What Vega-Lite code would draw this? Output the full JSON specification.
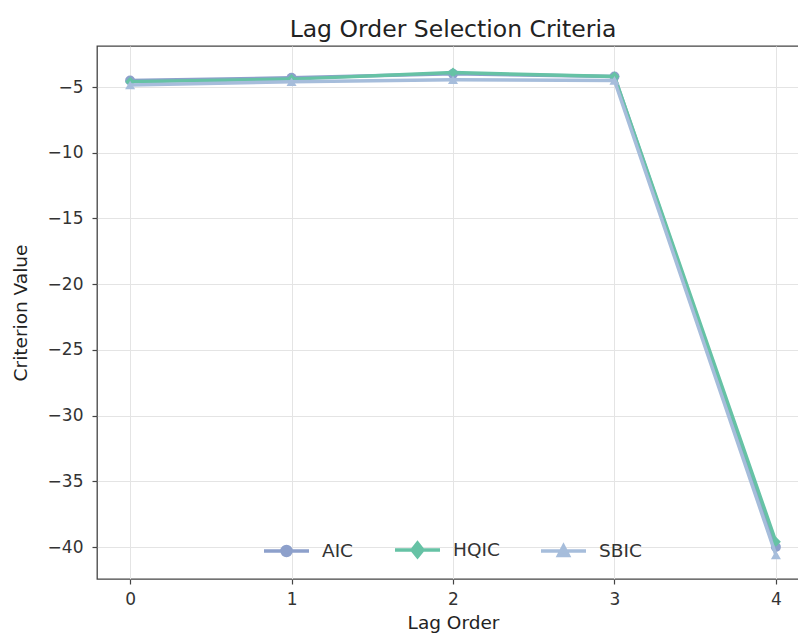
{
  "$schema": "https://vega.github.io/schema/vega-lite/v6.json",
  "autosize": "none",
  "padding": {"left": 97, "top": 46, "right": 0, "bottom": 60},
  "width": 712,
  "height": 533,
  "background": "white",
  "title": {"text": "Lag Order Selection Criteria", "font": "DejaVu Sans", "fontSize": 23.5, "fontWeight": "normal", "color": "#222", "offset": 5, "anchor": "middle"},
  "config": {
    "view": {"stroke": "#444", "strokeWidth": 1.3},
    "axis": {
      "labelFont": "DejaVu Sans", "labelFontSize": 17, "labelColor": "#333",
      "titleFont": "DejaVu Sans", "titleFontSize": 18.5, "titleFontWeight": "normal", "titleColor": "#222",
      "domain": false, "tickColor": "#444", "tickSize": 5, "tickWidth": 1.2,
      "gridColor": "#e4e4e4", "gridWidth": 1
    }
  },
  "data": {"values": [
    {"lag": 0, "series": "AIC", "value": -4.5},
    {"lag": 1, "series": "AIC", "value": -4.3},
    {"lag": 2, "series": "AIC", "value": -4.0},
    {"lag": 3, "series": "AIC", "value": -4.2},
    {"lag": 4, "series": "AIC", "value": -40.0},
    {"lag": 0, "series": "HQIC", "value": -4.6},
    {"lag": 1, "series": "HQIC", "value": -4.4},
    {"lag": 2, "series": "HQIC", "value": -3.9},
    {"lag": 3, "series": "HQIC", "value": -4.2},
    {"lag": 4, "series": "HQIC", "value": -39.6},
    {"lag": 0, "series": "SBIC", "value": -4.85},
    {"lag": 1, "series": "SBIC", "value": -4.6},
    {"lag": 2, "series": "SBIC", "value": -4.45},
    {"lag": 3, "series": "SBIC", "value": -4.5},
    {"lag": 4, "series": "SBIC", "value": -40.6}
  ]},
  "encoding": {
    "x": {"field": "lag", "type": "quantitative", "title": "Lag Order",
      "scale": {"domain": [-0.205, 4.205], "nice": false, "zero": false},
      "axis": {"values": [0, 1, 2, 3, 4], "format": "d", "titlePadding": 6, "labelPadding": 7}},
    "y": {"field": "value", "type": "quantitative", "title": "Criterion Value",
      "scale": {"domain": [-42.43, -1.88], "nice": false, "zero": false},
      "axis": {"values": [-5, -10, -15, -20, -25, -30, -35, -40], "titlePadding": 17, "labelPadding": 9}},
    "color": {"field": "series", "type": "nominal",
      "scale": {"domain": ["AIC", "HQIC", "SBIC"], "range": ["#8da0cb", "#66c2a5", "#a6bddb"]},
      "legend": {
        "orient": "none", "direction": "horizontal", "legendX": 165, "legendY": 479,
        "title": null, "labelFont": "DejaVu Sans", "labelFontSize": 18.5, "labelColor": "#333",
        "symbolSize": 2025, "symbolStrokeWidth": 3.5, "labelOffset": 11, "columnPadding": 34,
        "encode": {"symbols": {"update": {
          "shape": {"signal": "datum.value === 'AIC' ? 'M-1,0L1,0M-0.2,0A0.2,0.2 0 1,0 0.2,0A0.2,0.2 0 1,0 -0.2,0Z' : datum.value === 'HQIC' ? 'M-1,0L1,0M0,-0.3L0.24,0L0,0.3L-0.24,0Z' : 'M-1,0L1,0M0,-0.22L0.22,0.2L-0.22,0.2Z'"},
          "fill": {"signal": "scale('color', datum.value)"},
          "stroke": {"signal": "scale('color', datum.value)"},
          "strokeWidth": {"value": 3.5},
          "opacity": {"value": 1}
        }}}
      }}
  },
  "layer": [
    {"transform": [{"filter": "datum.series === 'AIC'"}], "mark": {"type": "line", "strokeWidth": 3.5}},
    {"transform": [{"filter": "datum.series === 'AIC'"}], "mark": {"type": "point", "filled": true, "size": 100, "shape": "circle", "opacity": 1}},
    {"transform": [{"filter": "datum.series === 'HQIC'"}], "mark": {"type": "line", "strokeWidth": 3.5}},
    {"transform": [{"filter": "datum.series === 'HQIC'"}], "mark": {"type": "point", "filled": true, "size": 100, "shape": "diamond", "opacity": 1}},
    {"transform": [{"filter": "datum.series === 'SBIC'"}], "mark": {"type": "line", "strokeWidth": 3.5}},
    {"transform": [{"filter": "datum.series === 'SBIC'"}], "mark": {"type": "point", "filled": true, "size": 100, "shape": "triangle-up", "opacity": 1}}
  ]
}
